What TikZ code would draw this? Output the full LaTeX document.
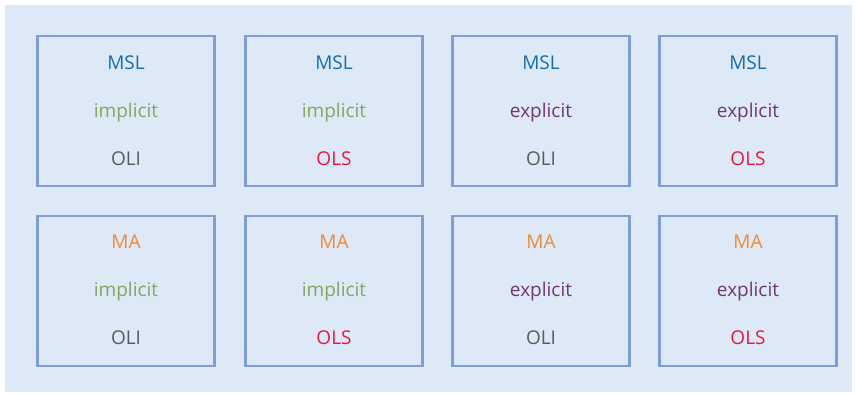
\documentclass[tikz,border=0pt]{standalone}
\usepackage{fontspec}
\setmainfont{Open Sans}
\definecolor{bgc}{RGB}{221,233,247}
\definecolor{boxc}{RGB}{127,158,214}
\definecolor{mslc}{RGB}{20,108,180}
\definecolor{impc}{RGB}{128,168,96}
\definecolor{expc}{RGB}{110,55,120}
\definecolor{olic}{RGB}{90,90,90}
\definecolor{olsc}{RGB}{240,20,60}
\definecolor{mac}{RGB}{240,138,56}
\tikzset{
  cell/.style={draw=boxc, line width=2.4pt, minimum width=177pt, minimum height=150pt, inner sep=0pt},
  lbl/.style={font=\fontsize{19}{22}\selectfont, inner sep=0pt, anchor=base}
}
\begin{document}
\begin{tikzpicture}[x=1pt,y=-1pt]
\useasboundingbox (0,0) rectangle (855,394);
\fill[white] (0,0) rectangle (855,394);
\fill[bgc] (5,5) rectangle (852,392);
\node[cell] (b1) at (126,111) {};
\node[cell] (b2) at (334,111) {};
\node[cell] (b3) at (541,111) {};
\node[cell] (b4) at (748,111) {};
\node[cell] (b5) at (126,291) {};
\node[cell] (b6) at (334,291) {};
\node[cell] (b7) at (541,291) {};
\node[cell] (b8) at (748,291) {};
% texts row 1
\node[lbl, text=mslc] (t1a) at (126,69) {MSL};
\node[lbl, text=impc] (t1b) at (126,117) {implicit};
\node[lbl, text=olic] (t1c) at (126,165) {OLI};
\node[lbl, text=mslc] (t2a) at (334,69) {MSL};
\node[lbl, text=impc] (t2b) at (334,117) {implicit};
\node[lbl, text=olsc] (t2c) at (334,165) {OLS};
\node[lbl, text=mslc] (t3a) at (541,69) {MSL};
\node[lbl, text=expc] (t3b) at (541,117) {explicit};
\node[lbl, text=olic] (t3c) at (541,165) {OLI};
\node[lbl, text=mslc] (t4a) at (748,69) {MSL};
\node[lbl, text=expc] (t4b) at (748,117) {explicit};
\node[lbl, text=olsc] (t4c) at (748,165) {OLS};
% texts row 2
\node[lbl, text=mac] (t5a) at (126,248) {MA};
\node[lbl, text=impc] (t5b) at (126,296) {implicit};
\node[lbl, text=olic] (t5c) at (126,344) {OLI};
\node[lbl, text=mac] (t6a) at (334,248) {MA};
\node[lbl, text=impc] (t6b) at (334,296) {implicit};
\node[lbl, text=olsc] (t6c) at (334,344) {OLS};
\node[lbl, text=mac] (t7a) at (541,248) {MA};
\node[lbl, text=expc] (t7b) at (541,296) {explicit};
\node[lbl, text=olic] (t7c) at (541,344) {OLI};
\node[lbl, text=mac] (t8a) at (748,248) {MA};
\node[lbl, text=expc] (t8b) at (748,296) {explicit};
\node[lbl, text=olsc] (t8c) at (748,344) {OLS};
\end{tikzpicture}
\end{document}
